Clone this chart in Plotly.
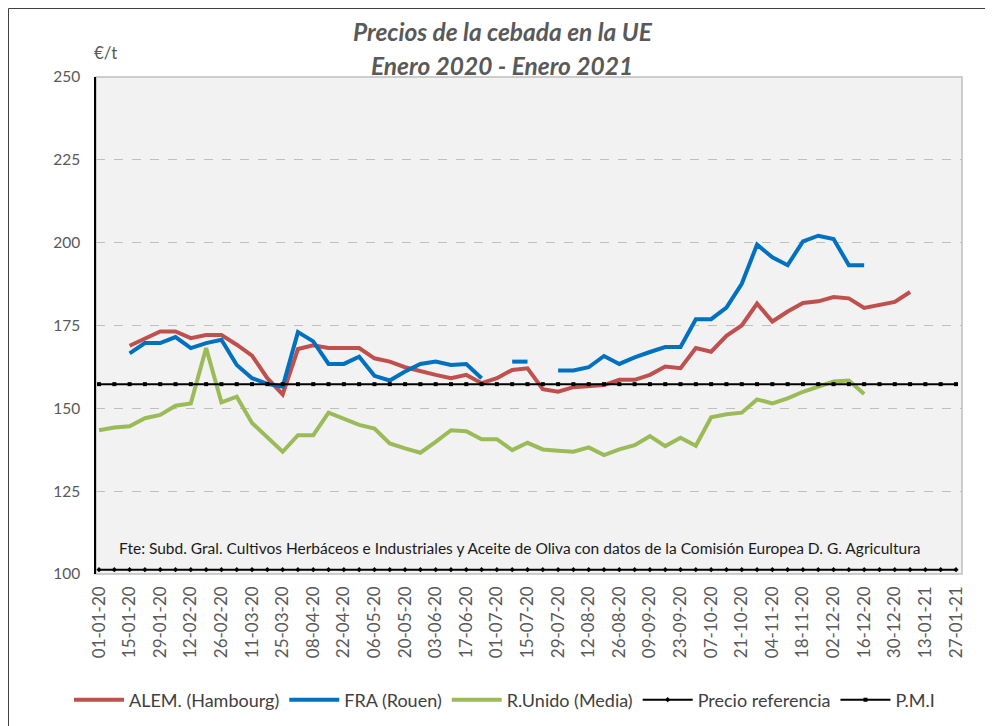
import pandas as pd
import plotly.graph_objects as go

# Weekly dates (categories)
dates = list(pd.date_range("2020-01-01", periods=57, freq="7D"))

N = None
alem = [N, N, 168.9, 171.2, 173.2, 173.2, 171.2, 172.1, 172.1, 169.2, 165.9, 159.1, 154.2,
        167.9, 169.0, 168.2, 168.2, 168.2, 165.1, 164.1, 162.4, 161.1, 160.1, 159.1, 160.1,
        157.6, 159.1, 161.6, 162.1, 155.8, 155.0, 156.4, 156.7, 157.0, 158.6, 158.6, 160.1,
        162.6, 162.1, 168.2, 167.1, 171.9, 175.0, 181.6, 176.2, 179.2, 181.8, 182.3, 183.6,
        183.2, 180.3, 181.1, 182.1, 185.1, N, N, N]
fra = [N, N, 166.6, 169.7, 169.7, 171.5, 168.2, 169.7, 170.7, 163.1, 159.1, 157.4, 156.5,
       173.0, 170.2, 163.4, 163.4, 165.6, 159.8, 158.4, 161.1, 163.4, 164.1, 163.1, 163.4,
       159.1, N, 164.1, 164.1, N, 161.4, 161.4, 162.4, 165.8, 163.4, 165.4, 167.0,
       168.5, 168.5, 176.9, 176.9, 180.4, 187.6, 199.4, 195.6, 193.2, 200.4, 202.1, 201.1,
       193.2, 193.2, N, N, N, N, N, N]
ruk = [143.4, 144.2, 144.6, 147.0, 148.0, 150.8, 151.5, 168.2, 151.8, 153.5, 145.6, 141.4, 136.9,
       141.9, 141.9, 148.7, 147.0, 145.0, 143.9, 139.4, 137.9, 136.6, 139.9, 143.4, 143.1,
       140.7, 140.7, 137.4, 139.6, 137.6, 137.2, 136.9, 138.2, 135.9, 137.6, 138.9, 141.6,
       138.6, 141.1, 138.7, 147.3, 148.2, 148.7, 152.7, 151.5, 153.0, 155.0, 156.7, 158.1,
       158.4, 154.3, N, N, N, N, N, N]
precio_ref = [101.31] * 57
pmi = [157.3] * 57

names = ["ALEM. (Hambourg)", "FRA (Rouen)", "R.Unido (Media)", "Precio referencia", "P.M.I"]
colors = ["#C0504D", "#0070C0", "#9BBB59"]

FONT = "Lato"
GRAY = "#595959"

fig = go.Figure()
for name, vals, col in zip(names[:3], [alem, fra, ruk], colors):
    fig.add_trace(go.Scatter(x=dates, y=vals, name=name, mode="lines",
                             line=dict(color=col, width=4), connectgaps=False))
fig.add_trace(go.Scatter(x=dates, y=precio_ref, name=names[3], mode="lines+markers",
                         line=dict(color="black", width=2),
                         marker=dict(symbol="diamond", size=4, color="black")))
fig.add_trace(go.Scatter(x=dates, y=pmi, name=names[4], mode="lines+markers",
                         line=dict(color="black", width=2),
                         marker=dict(symbol="square", size=4, color="black")))

OFF = 8  # page body margin
W, H = 866, 497  # plot area size in px
L, T = 96 - OFF, 77 - OFF


def px_x(px):  # page pixel -> paper
    return (px - OFF - L) / W


def px_y(py):
    return (T + H - (py - OFF)) / H


fig.update_layout(
    width=993, height=726,
    margin=dict(l=L, r=993 - L - W, t=T, b=726 - T - H, pad=0, autoexpand=False),
    paper_bgcolor="white", plot_bgcolor="#F2F2F2",
    font=dict(family=FONT, color=GRAY),
    showlegend=True,
    legend=dict(orientation="h", x=px_x(69), xanchor="left", y=px_y(700), yanchor="middle",
                font=dict(family=FONT, size=18, color="#404040"), itemwidth=50,
                bgcolor="rgba(0,0,0,0)"),
    xaxis=dict(type="date", range=["2019-12-30 15:00", "2021-01-29 18:00"],
               tick0="2020-01-01", dtick=14 * 86400000, tickformat="%d-%m-%y",
               tickangle=-90, tickfont=dict(family=FONT, size=17, color=GRAY),
               showgrid=False, zeroline=False, showline=False, ticks="",
               ticklabelstandoff=8, automargin=False),
    yaxis=dict(range=[100, 250], dtick=25, tick0=100,
               tickfont=dict(family=FONT, size=15.5, color=GRAY),
               showgrid=True, gridcolor="#BFBFBF", griddash="dash", gridwidth=1,
               zeroline=False, showline=True, linecolor="black", linewidth=1.5,
               ticks="", ticklabelstandoff=11, automargin=False),
)

# plot-area border (gray) and outer chart border
fig.add_shape(type="rect", xref="paper", yref="paper", x0=0, x1=1, y0=0, y1=1,
              line=dict(color="#BFBFBF", width=1.5), layer="below")
fig.add_shape(type="rect", xref="paper", yref="paper",
              x0=px_x(8.5), x1=px_x(1020), y0=px_y(750), y1=px_y(8.5),
              line=dict(color="#404040", width=1), layer="below")

fig.add_annotation(text="<b><i>Precios de la cebada en la UE</i></b>", xref="paper", yref="paper",
                   x=px_x(503), y=px_y(32), xanchor="center", yanchor="middle", showarrow=False,
                   font=dict(family=FONT, size=24.5, color=GRAY))
fig.add_annotation(text="<b><i>Enero 2020 - Enero 2021</i></b>", xref="paper", yref="paper",
                   x=px_x(502), y=px_y(65), xanchor="center", yanchor="middle", showarrow=False,
                   font=dict(family=FONT, size=24.5, color=GRAY))
fig.add_annotation(text="€/t", xref="paper", yref="paper", x=px_x(92), y=px_y(53),
                   xanchor="left", yanchor="middle", showarrow=False,
                   font=dict(family=FONT, size=17, color=GRAY))
fig.add_annotation(text="Fte: Subd. Gral. Cultivos Herbáceos e Industriales y Aceite de Oliva con datos de la Comisión Europea D. G. Agricultura",
                   xref="paper", yref="paper", x=px_x(117), y=px_y(548),
                   xanchor="left", yanchor="middle", showarrow=False,
                   font=dict(family=FONT, size=15.5, color="#1a1a1a"))

fig.write_html("out.html")
